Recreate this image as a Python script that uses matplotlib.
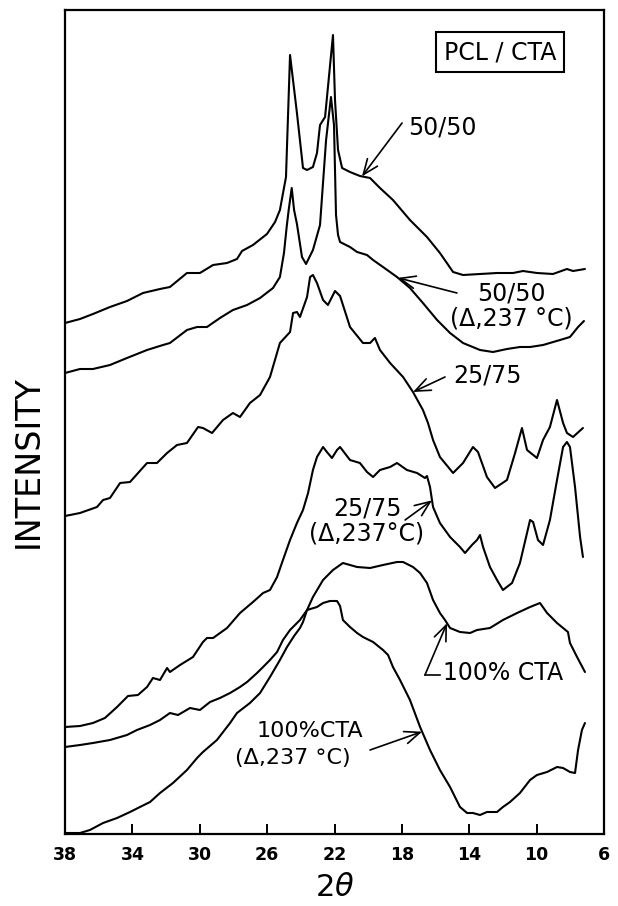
import numpy as np
import matplotlib
matplotlib.use("Agg")
import matplotlib.pyplot as plt

# ---- diffraction scans (2-theta in degrees, intensity in arbitrary units, offset stacked) ----
two_theta_5050 = [38.00, 37.11, 36.34, 35.33, 34.32, 33.37, 32.36, 31.77, 30.76, 29.99, 29.21, 28.38,
                  27.79, 27.49, 26.84, 26.01, 25.53, 25.24, 24.88, 24.64, 24.23, 23.87, 23.63, 23.28,
                  23.04, 22.86, 22.56, 22.09, 21.97, 21.79, 21.55, 21.08, 20.49, 19.89, 19.30, 18.53,
                  17.52, 16.51, 15.74, 14.96, 14.37, 13.36, 12.35, 11.40, 10.81, 9.98, 9.03, 8.20,
                  7.84, 7.13]
int_5050 = [511, 515, 520, 527, 533, 541, 545, 547, 561, 561, 569, 571,
            575, 583, 589, 600, 612, 624, 657, 779, 721, 666, 664, 667,
            681, 709, 717, 799, 734, 684, 666, 662, 658, 656, 646, 634,
            614, 597, 581, 562, 559, 560, 561, 561, 563, 561, 560, 565,
            563, 565]

two_theta_5050_ann = [38.00, 37.11, 36.34, 35.33, 34.32, 33.13, 32.18, 31.77, 30.76, 30.16, 29.57, 28.80,
                      28.03, 27.19, 26.42, 25.65, 25.24, 25.00, 24.84, 24.72, 24.54, 24.40, 24.23, 23.93,
                      23.69, 23.28, 22.86, 22.50, 22.21, 22.03, 21.91, 21.79, 21.67, 21.08, 20.66, 20.07,
                      19.71, 19.12, 18.29, 17.52, 16.75, 15.91, 15.14, 14.37, 13.36, 12.59, 11.76, 10.99,
                      10.39, 9.62, 8.61, 8.02, 7.54, 7.19]
int_5050_ann = [461, 465, 465, 469, 476, 484, 489, 491, 504, 507, 507, 516,
                524, 529, 536, 546, 557, 581, 607, 624, 646, 624, 610, 577,
                570, 584, 609, 694, 737, 709, 619, 599, 592, 587, 582, 579,
                574, 567, 557, 546, 531, 514, 501, 491, 484, 482, 485, 487,
                487, 489, 494, 497, 507, 513]

two_theta_2575 = [38.00, 37.11, 36.10, 35.74, 35.33, 34.73, 34.14, 33.13, 32.54, 31.94, 31.35, 30.76,
                  30.10, 29.81, 29.27, 28.62, 28.03, 27.61, 27.02, 26.42, 25.83, 25.24, 24.64, 24.46,
                  24.23, 24.05, 23.63, 23.45, 23.28, 23.04, 22.68, 22.39, 21.97, 21.67, 21.08, 20.31,
                  19.89, 19.60, 19.30, 18.70, 17.93, 17.34, 16.75, 16.45, 16.15, 15.74, 14.96, 14.37,
                  13.78, 13.48, 12.95, 12.47, 11.76, 11.28, 10.87, 10.57, 9.98, 9.62, 9.21, 8.79,
                  8.43, 8.20, 7.84, 7.25]
int_2575 = [318, 321, 327, 334, 336, 351, 352, 371, 371, 381, 389, 391,
            407, 406, 401, 414, 421, 417, 431, 439, 457, 491, 502, 521,
            522, 517, 537, 557, 559, 551, 534, 529, 543, 538, 507, 491,
            491, 496, 484, 471, 457, 442, 424, 411, 394, 377, 361, 371,
            387, 382, 357, 346, 354, 381, 406, 384, 376, 394, 407, 434,
            411, 401, 397, 406]

two_theta_2575_ann = [38.00, 37.11, 36.34, 35.63, 34.91, 34.26, 33.67, 33.13, 32.78, 32.36, 31.94, 31.77,
                      31.17, 30.40, 29.81, 29.57, 29.21, 28.38, 27.61, 26.84, 26.24, 25.83, 25.41, 25.06,
                      24.64, 24.23, 23.87, 23.57, 23.28, 23.04, 22.68, 22.45, 22.15, 21.85, 21.67, 21.08,
                      20.49, 20.07, 19.71, 19.30, 18.70, 18.29, 17.70, 17.10, 16.63, 16.51, 16.33, 16.15,
                      15.74, 15.14, 14.55, 14.25, 13.84, 13.54, 13.36, 13.18, 12.77, 12.35, 12.00, 11.46,
                      10.99, 10.57, 10.39, 10.21, 9.92, 9.62, 9.21, 8.79, 8.43, 8.20, 8.02, 7.72,
                      7.42, 7.25]
int_2575_ann = [107, 108, 111, 116, 127, 138, 139, 147, 156, 154, 166, 162,
                169, 177, 192, 196, 196, 206, 221, 232, 241, 244, 257, 274,
                294, 311, 324, 341, 364, 377, 387, 382, 376, 384, 387, 374,
                371, 362, 357, 364, 367, 371, 364, 361, 356, 358, 347, 327,
                311, 297, 287, 281, 289, 294, 299, 287, 267, 254, 244, 251,
                271, 301, 314, 312, 294, 289, 314, 354, 387, 392, 387, 347,
                297, 277]

two_theta_cta = [38.00, 37.11, 36.34, 35.33, 34.32, 33.73, 32.95, 32.36, 31.77, 31.29, 30.58, 29.99,
                 29.39, 28.80, 28.20, 27.61, 27.19, 26.60, 26.24, 25.83, 25.41, 25.06, 24.64, 24.05,
                 23.63, 23.28, 22.68, 22.09, 21.67, 21.50, 20.66, 19.89, 19.12, 18.29, 17.93, 17.34,
                 16.92, 16.51, 16.15, 15.74, 15.44, 15.14, 14.55, 13.95, 13.54, 12.77, 12.00, 11.16,
                 10.39, 9.80, 9.38, 8.79, 8.14, 8.02, 7.60, 7.13]
int_cta = [87, 89, 91, 94, 99, 104, 109, 114, 121, 119, 126, 124,
           132, 136, 141, 147, 152, 161, 167, 174, 182, 194, 204, 214,
           224, 237, 254, 264, 269, 271, 267, 266, 269, 272, 272, 267,
           261, 251, 234, 221, 214, 206, 202, 201, 204, 206, 214, 221,
           227, 231, 221, 211, 202, 191, 177, 162]

two_theta_cta_ann = [38.00, 37.11, 36.52, 35.74, 34.91, 34.14, 33.55, 32.95, 32.36, 31.59, 30.76, 30.16,
                     29.81, 28.98, 28.20, 27.79, 27.02, 26.42, 25.83, 25.24, 24.82, 24.40, 24.05, 23.87,
                     23.63, 23.04, 22.68, 22.27, 21.85, 21.67, 21.50, 21.08, 20.66, 20.31, 19.71, 19.12,
                     18.82, 18.53, 18.11, 17.52, 16.92, 16.33, 15.74, 15.14, 14.55, 14.13, 13.78, 13.36,
                     12.95, 12.35, 12.00, 11.58, 10.99, 10.39, 9.98, 9.38, 8.79, 8.43, 8.02, 7.72,
                     7.54, 7.31, 7.13]
int_cta_ann = [1, 1, 4, 11, 16, 22, 27, 32, 41, 51, 64, 76,
               82, 94, 111, 121, 131, 141, 157, 174, 187, 198, 206, 212,
               224, 227, 231, 233, 233, 228, 214, 207, 201, 197, 192, 184,
               179, 167, 154, 134, 107, 84, 64, 47, 27, 21, 21, 19,
               22, 22, 27, 32, 41, 54, 59, 62, 67, 66, 62, 61,
               84, 104, 111]

x_ticks = [38, 34, 30, 26, 22, 18, 14, 10, 6]
x_tick_labels = ["38", "34", "30", "26", "22", "18", "14", "10", "6"]

plt.rcParams['font.family'] = ['DejaVu Sans']

fig = plt.figure(figsize=(6.18, 9.06), dpi=100)
ax = fig.add_axes([65 / 618, 1 - 834 / 906, 539 / 618, 824 / 906])

scans = {
    "5050": (two_theta_5050, int_5050),
    "5050_ann": (two_theta_5050_ann, int_5050_ann),
    "2575": (two_theta_2575, int_2575),
    "2575_ann": (two_theta_2575_ann, int_2575_ann),
    "cta": (two_theta_cta, int_cta),
    "cta_ann": (two_theta_cta_ann, int_cta_ann),
}
for tt, ii in scans.values():
    ax.plot(tt, ii, color="black", lw=1.5, solid_joinstyle="round", solid_capstyle="round")

ax.set_xlim(38, 6)
ax.set_ylim(0, 824)
ax.set_xticks(x_ticks)
ax.set_xticklabels(x_tick_labels, fontsize=12.5, fontweight="bold")
ax.set_yticks([])
ax.tick_params(axis="x", direction="in", length=7, width=1.4, pad=9)
for s in ax.spines.values():
    s.set_linewidth(1.6)

ax.set_xlabel(r"$2\theta$", fontsize=22, labelpad=6)
ax.set_ylabel("INTENSITY", fontsize=24, rotation=90, ha="center", va="center")
ax.yaxis.set_label_coords(-0.068, 0.452)


def on_curve(t, key):
    tt, ii = scans[key]
    return float(np.interp(t, np.asarray(tt)[::-1], np.asarray(ii)[::-1]))


arrow_kw = dict(arrowstyle="->,head_length=1.1,head_width=0.45", lw=1.2, color="black",
                shrinkA=0, shrinkB=0)


def pointer(t_tip, key, tail):
    ax.annotate("", xy=(t_tip, on_curve(t_tip, key)), xytext=tail,
                arrowprops=arrow_kw)


label_kw = dict(fontsize=17, color="black", linespacing=1.05)

ax.text(17.64, 707, "50/50", ha="left", va="center", **label_kw)
pointer(20.37, "5050", (17.99, 711))

ax.text(11.52, 528, "50/50\n(Δ,237 °C)", ha="center", va="center", **label_kw)
pointer(18.23, "5050_ann", (14.73, 541))

ax.text(12.92, 459, "25/75", ha="center", va="center", **label_kw)
pointer(17.34, "2575", (15.44, 457))

ax.text(20.07, 313, "25/75\n(Δ,237°C)", ha="center", va="center", **label_kw)
pointer(16.21, "2575_ann", (17.81, 314))

ax.text(15.56, 161, "100% CTA", ha="left", va="center", **label_kw)
ax.plot([15.74, 16.63], [159, 159], color="black", lw=1.2)
pointer(15.32, "cta", (16.63, 159))

small_kw = dict(label_kw, fontsize=16)
ax.text(23.48, 103, "100%CTA", ha="center", va="center", **small_kw)
ax.text(24.49, 76, "(Δ,237 °C)", ha="center", va="center", **small_kw)
pointer(16.80, "cta_ann", (19.89, 84))

ax.text(12.17, 782, "PCL / CTA", ha="center", va="center", fontsize=17,
        bbox=dict(boxstyle="square,pad=0.33", fc="white", ec="black", lw=1.5))

fig.savefig("out.png", dpi=100)
